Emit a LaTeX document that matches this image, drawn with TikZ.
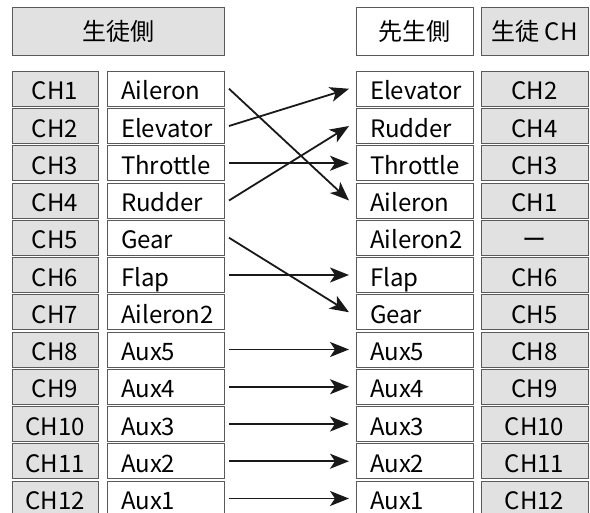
\documentclass[tikz,border=0pt]{standalone}
\usepackage{fontspec}
\setmainfont{Noto Sans CJK JP}
\usetikzlibrary{arrows.meta}
\definecolor{boxgray}{RGB}{225,225,225}
\definecolor{boxline}{RGB}{90,90,90}
\definecolor{arrowcol}{RGB}{25,25,25}
\begin{document}
\begin{tikzpicture}[x=1pt,y=-1pt,
  cell/.style={draw=boxline, line width=0.9pt, minimum height=35pt, inner sep=0pt, outer sep=0pt,
    anchor=north west, font=\fontsize{24}{24}\selectfont, text height=25pt, text depth=2.5pt},
  chcell/.style={cell, fill=boxgray, minimum width=#1},
  namecell/.style={cell, fill=white, text width=89pt, inner xsep=14pt, align=left},
  headcell/.style={draw=boxline, line width=0.9pt, minimum height=48pt, inner sep=0pt, outer sep=0pt,
    anchor=north west, font=\fontsize{24}{24}\selectfont, text height=20pt, text depth=1pt, minimum width=#1},
  arr/.style={draw=arrowcol, line width=1.8pt, -{Stealth[length=19pt,width=15pt,inset=5pt]}}
]
\useasboundingbox (0,0) rectangle (590,513);
% headers
\node[headcell=212pt, fill=boxgray] (hl) at (12,7) {生徒側};
\node[headcell=117pt, fill=white] (hr) at (356,7) {先生側};
\node[headcell=107pt, fill=boxgray] (hc) at (481,7) {生徒 CH};
% left columns
\foreach \i/\nm in {1/Aileron,2/Elevator,3/Throttle,4/Rudder,5/Gear,6/Flap,7/Aileron2,8/Aux5,9/Aux4,10/Aux3,11/Aux2,12/Aux1}{
  \pgfmathsetmacro{\yy}{71.25+(\i-1)*37.25}
  \node[chcell=86pt] (lc\i) at (12,\yy) {CH\i};
  \node[namecell] (ln\i) at (107,\yy) {\nm};
}
% right columns
\foreach \i/\nm/\ch in {1/Elevator/CH2,2/Rudder/CH4,3/Throttle/CH3,4/Aileron/CH1,5/Aileron2/ー,6/Flap/CH6,7/Gear/CH5,8/Aux5/CH8,9/Aux4/CH9,10/Aux3/CH10,11/Aux2/CH11,12/Aux1/CH12}{
  \pgfmathsetmacro{\yy}{71.25+(\i-1)*37.25}
  \node[namecell] (rn\i) at (356,\yy) {\nm};
  \node[chcell=107pt] (rc\i) at (481,\yy) {\ch};
}
% arrows
\foreach \a/\b in {1/4,2/1,3/3,4/2,5/7,6/6,8/8,9/9,10/10,11/11,12/12}{
  \draw[arr] ([xshift=5pt]ln\a.east) -- ([xshift=-7pt]rn\b.west);
}
\end{tikzpicture}
\end{document}
